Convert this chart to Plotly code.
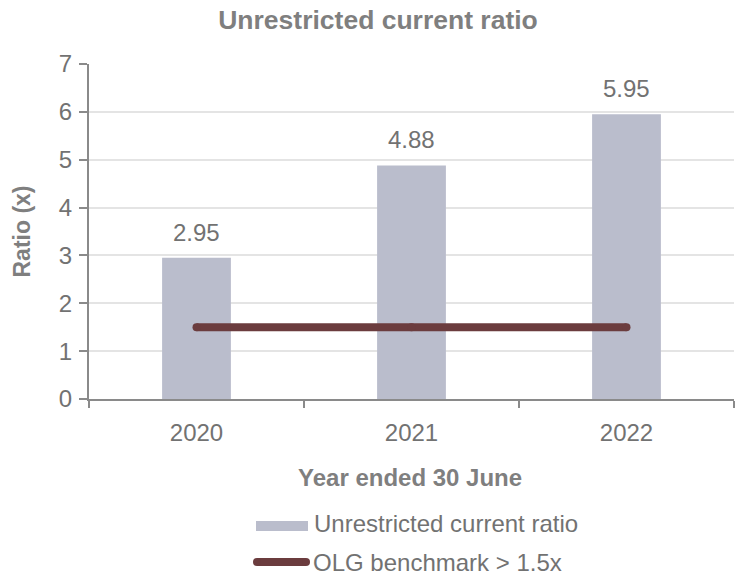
import plotly.graph_objects as go

# Chart data
years = ["2020", "2021", "2022"]
ratio_values = [2.95, 4.88, 5.95]
benchmark_values = [1.5, 1.5, 1.5]
ratio_labels = ["2.95", "4.88", "5.95"]
y_ticks = [0, 1, 2, 3, 4, 5, 6, 7]

BAR_COLOR = "#BABDCC"
LINE_COLOR = "#6B3C3E"
TEXT_GRAY = "#7F7F7F"
TICK_GRAY = "#727272"
AXIS_GRAY = "#8A8A8A"
FONT = "Liberation Sans, Arial, sans-serif"

W, H = 735, 575
ML, MR, MT, MB = 89, 1, 64, 176
PW, PH = W - ML - MR, H - MT - MB


def px_to_paper_x(px):
    return (px - ML) / PW


def px_to_paper_y(py):
    return (H - MB - py) / PH


fig = go.Figure()

fig.add_trace(go.Bar(
    x=years, y=ratio_values, width=0.32,
    marker=dict(color=BAR_COLOR, line=dict(width=0)),
    name="Unrestricted current ratio", showlegend=False,
))

fig.add_trace(go.Scatter(
    x=years, y=benchmark_values, mode="lines+markers",
    line=dict(color=LINE_COLOR, width=8),
    marker=dict(color=LINE_COLOR, size=8, line=dict(width=0)),
    name="OLG benchmark > 1.5x", showlegend=False,
))

annotations = []
# value labels above bars (category index positions)
for i, (v, lab) in enumerate(zip(ratio_values, ratio_labels)):
    annotations.append(dict(
        x=i, y=v, xref="x", yref="y", text=lab, showarrow=False,
        yanchor="bottom", yshift=10,
        font=dict(family=FONT, size=24, color=TICK_GRAY),
    ))

# axis titles
annotations.append(dict(
    x=px_to_paper_x(21), y=0.5, xref="paper", yref="paper",
    text="<b>Ratio (x)</b>", textangle=-90, showarrow=False,
    xanchor="center", yanchor="middle",
    font=dict(family=FONT, size=23, color=TEXT_GRAY),
))
annotations.append(dict(
    x=px_to_paper_x(410), y=px_to_paper_y(477), xref="paper", yref="paper",
    text="<b>Year ended 30 June</b>", showarrow=False,
    xanchor="center", yanchor="middle",
    font=dict(family=FONT, size=24, color=TEXT_GRAY),
))

# legend text
annotations.append(dict(
    x=px_to_paper_x(312), y=px_to_paper_y(523), xref="paper", yref="paper",
    text="Unrestricted current ratio", showarrow=False,
    xanchor="left", yanchor="middle",
    font=dict(family=FONT, size=24, color=TICK_GRAY),
))
annotations.append(dict(
    x=px_to_paper_x(311), y=px_to_paper_y(562), xref="paper", yref="paper",
    text="OLG benchmark > 1.5x", showarrow=False,
    xanchor="left", yanchor="middle",
    font=dict(family=FONT, size=24, color=TICK_GRAY),
))

shapes = [
    # legend swatch for the bars
    dict(type="rect", xref="paper", yref="paper",
         x0=px_to_paper_x(256), x1=px_to_paper_x(308),
         y0=px_to_paper_y(531), y1=px_to_paper_y(521),
         fillcolor=BAR_COLOR, line=dict(width=0)),
    # legend swatch for the benchmark line
    dict(type="line", xref="paper", yref="paper",
         x0=px_to_paper_x(257), x1=px_to_paper_x(306),
         y0=px_to_paper_y(562), y1=px_to_paper_y(562),
         line=dict(color=LINE_COLOR, width=8)),
    dict(type="circle", xref="paper", yref="paper",
         x0=px_to_paper_x(253), x1=px_to_paper_x(261),
         y0=px_to_paper_y(566), y1=px_to_paper_y(558),
         fillcolor=LINE_COLOR, line=dict(width=0)),
    dict(type="circle", xref="paper", yref="paper",
         x0=px_to_paper_x(302), x1=px_to_paper_x(310),
         y0=px_to_paper_y(566), y1=px_to_paper_y(558),
         fillcolor=LINE_COLOR, line=dict(width=0)),
]

fig.update_layout(
    width=W, height=H,
    margin=dict(l=ML, r=MR, t=MT, b=MB, pad=0),
    paper_bgcolor="white", plot_bgcolor="white",
    font=dict(family=FONT, color=TICK_GRAY),
    title=dict(
        text="<b>Unrestricted current ratio</b>",
        x=378 / W, xref="container", xanchor="center",
        y=1 - 20 / H, yref="container", yanchor="middle",
        font=dict(family=FONT, size=26.5, color=TEXT_GRAY),
    ),
    showlegend=False,
    annotations=annotations,
    shapes=shapes,
    xaxis=dict(
        type="category", range=[-0.5, 2.5],
        showline=True, linecolor=AXIS_GRAY, linewidth=2,
        ticks="outside", tickson="boundaries", ticklen=7,
        tickcolor=AXIS_GRAY, tickwidth=2,
        ticklabelstandoff=11,
        tickfont=dict(family=FONT, size=24, color=TICK_GRAY),
        showgrid=False, zeroline=False, fixedrange=True,
    ),
    yaxis=dict(
        range=[0, 7], tickvals=y_ticks,
        showline=True, linecolor=AXIS_GRAY, linewidth=2,
        ticks="outside", ticklen=8, tickcolor=AXIS_GRAY, tickwidth=2,
        ticklabelstandoff=2,
        tickfont=dict(family=FONT, size=24, color=TICK_GRAY),
        showgrid=True, gridcolor="#E4E4E4", gridwidth=1.5,
        zeroline=False, fixedrange=True,
    ),
)

fig.write_html("out.html")
